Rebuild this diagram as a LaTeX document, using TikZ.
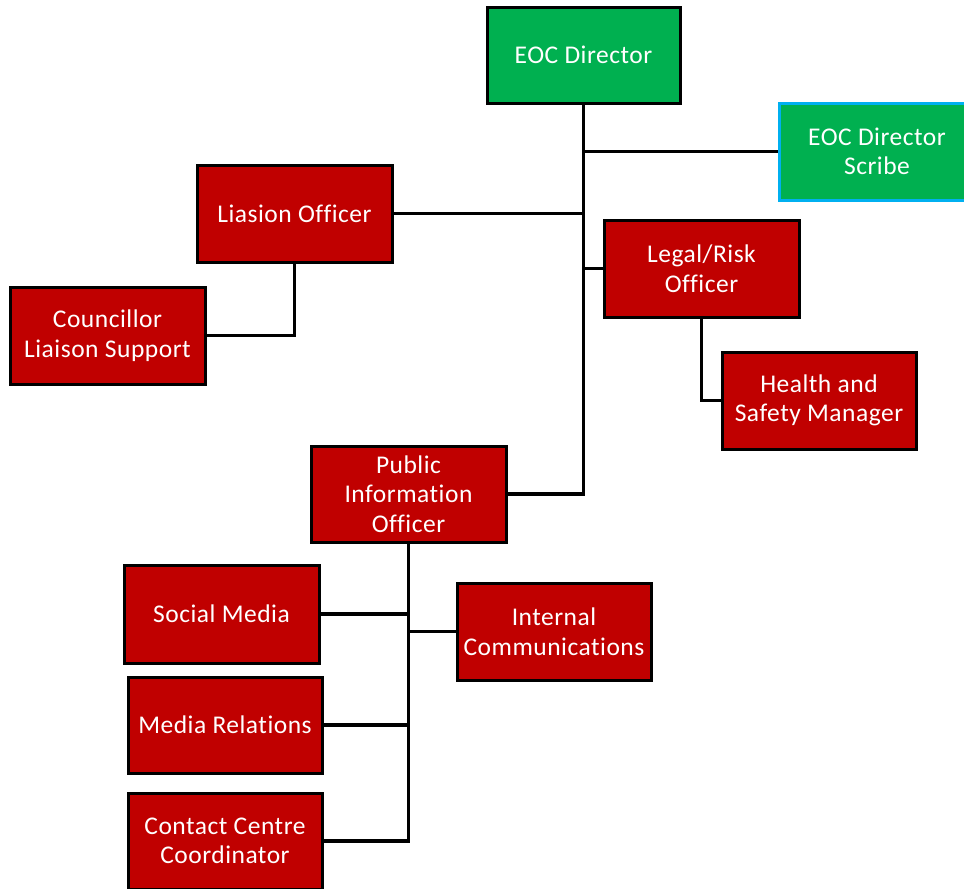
\documentclass[tikz,border=0pt]{standalone}
\usepackage{fontspec}
\setmainfont{Carlito}[LetterSpace=2, Ligatures={NoCommon, NoRare, NoDiscretionary}]
\definecolor{boxred}{HTML}{C00000}
\definecolor{boxgreen}{HTML}{00B050}
\definecolor{boxcyan}{HTML}{00B0F0}
\tikzset{
  unit/.style={rectangle, draw=black, line width=3pt, inner sep=0pt, align=center,
    text=white, font=\fontsize{25.5}{29.5}\selectfont, minimum width=195pt, minimum height=97pt},
  redunit/.style={unit, fill=boxred},
  greenunit/.style={unit, fill=boxgreen},
  scribeunit/.style={unit, fill=boxgreen, draw=boxcyan},
  link/.style={draw=black, line width=3.2pt}
}
\begin{document}
\begin{tikzpicture}[x=1pt,y=-1pt]
\useasboundingbox (0,0) rectangle (964,889);
\node[greenunit, minimum width=193pt, minimum height=96pt] (dir) at (583.5,55) {EOC Director};
\node[scribeunit, minimum width=196pt] (scribe) at (877,151.5) {EOC Director\\Scribe};
\node[redunit] (liaison) at (294.5,213.5) {Liasion Officer};
\node[redunit] (council) at (107.5,335.5) {Councillor\\Liaison Support};
\node[redunit] (legal) at (701.5,268.5) {Legal/Risk\\Officer};
\node[redunit, minimum width=194pt] (health) at (819,400.5) {Health and\\Safety Manager};
\node[redunit, minimum height=96pt] (pio) at (408.5,494) {Public\\Information\\Officer};
\node[redunit, minimum height=98pt] (social) at (221.5,614) {Social Media};
\node[redunit, minimum width=194pt] (internal) at (554,631.5) {Internal\\Communications};
\node[redunit, minimum width=194pt, minimum height=96pt] (mediarel) at (225,725) {Media Relations};
\node[redunit, minimum width=194pt, minimum height=96pt] (contact) at (225,841) {Contact Centre\\Coordinator};
\path[link] (dir.south) |- (pio.east);
\path[link] (scribe.west) -- (scribe.west -| dir.south);
\path[link] (liaison.east) -- (liaison.east -| dir.south);
\path[link] (legal.west) -- (legal.west -| dir.south);
\path[link] (liaison.south) |- (council.east);
\path[link] (legal.south) |- (health.west);
\path[link] (pio.south) |- (contact.east);
\path[link] (social.east) -- (social.east -| pio.south);
\path[link] (mediarel.east) -- (mediarel.east -| pio.south);
\path[link] (internal.west) -- (internal.west -| pio.south);
\end{tikzpicture}
\end{document}
